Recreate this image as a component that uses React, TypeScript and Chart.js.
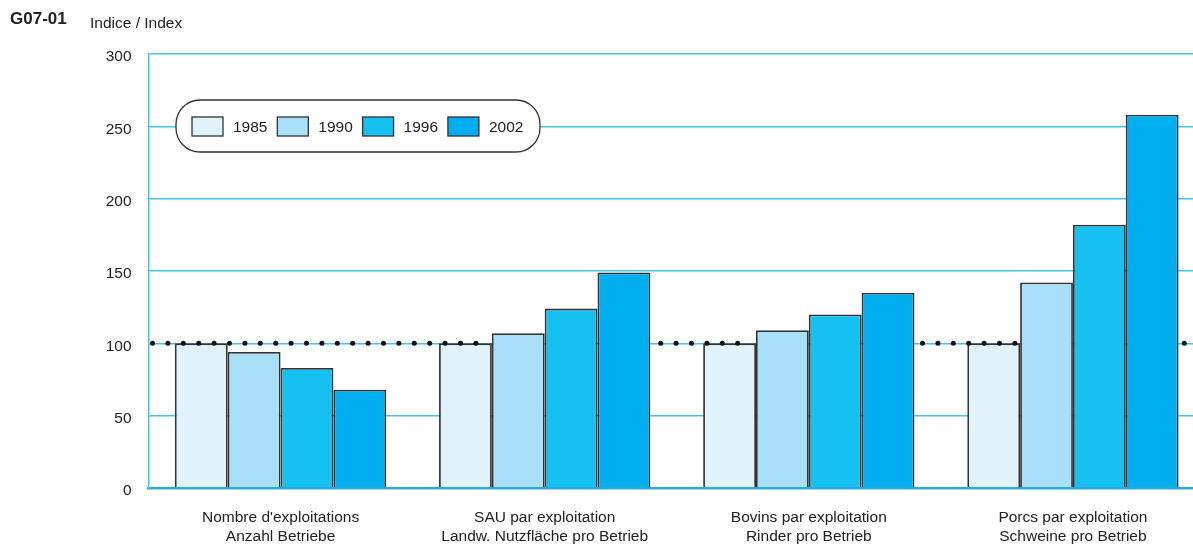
import React, { useEffect, useRef } from "react";
import { Chart, registerables } from "chart.js";

Chart.register(...registerables);

const categories: string[][] = [
  ["Nombre d'exploitations", "Anzahl Betriebe"],
  ["SAU par exploitation", "Landw. Nutzfläche pro Betrieb"],
  ["Bovins par exploitation", "Rinder pro Betrieb"],
  ["Porcs par exploitation", "Schweine pro Betrieb"],
];
const years = ["1985", "1990", "1996", "2002"];
const values1985 = [100, 100, 100, 100];
const values1990 = [94, 107, 109, 142];
const values1996 = [83, 124, 120, 182];
const values2002 = [68, 149, 135, 258];
const colors = ["#e0f3fb", "#aadff9", "#16c0f0", "#00aeef"];
const yTicks = [0, 50, 100, 150, 200, 250, 300];
const referenceValue = 100;
const title = "G07-01";
const yTitle = "Indice / Index";

const FONT = "'Liberation Sans', Arial, Helvetica, sans-serif";
const BLUE = "#45c3f0";

const decorPlugin = {
  id: "decor",
  afterDatasetsDraw(chart: any) {
    const { ctx, chartArea, scales } = chart;
    const y = scales.y.getPixelForValue(referenceValue);
    // collect bars that rise above the reference line
    const covers: { l: number; r: number }[] = [];
    chart.data.datasets.forEach((_: any, i: number) => {
      chart.getDatasetMeta(i).data.forEach((bar: any) => {
        if (bar.y < y - 3) covers.push({ l: bar.x - bar.width / 2 - 3, r: bar.x + bar.width / 2 + 3 });
      });
    });
    ctx.save();
    ctx.fillStyle = "#111";
    for (let x = chartArea.left + 4; x <= 1190; x += 15.4) {
      if (covers.some((c) => x >= c.l && x <= c.r)) continue;
      ctx.beginPath();
      ctx.arc(x, y, 2.5, 0, Math.PI * 2);
      ctx.fill();
    }
    ctx.restore();
  },
  afterDraw(chart: any) {
    const { ctx } = chart;
    ctx.save();
    // titles
    ctx.fillStyle = "#222";
    ctx.textBaseline = "alphabetic";
    ctx.textAlign = "left";
    ctx.font = `bold 17px ${FONT}`;
    ctx.fillText(title, 10, 24);
    ctx.font = `15.5px ${FONT}`;
    ctx.fillText(yTitle, 90, 28);

    // legend box
    const x0 = 176, y0 = 100, w = 364, h = 52, r = 24;
    ctx.beginPath();
    ctx.roundRect(x0, y0, w, h, r);
    ctx.fillStyle = "#fff";
    ctx.fill();
    ctx.lineWidth = 1.3;
    ctx.strokeStyle = "#333";
    ctx.stroke();
    chart.data.datasets.forEach((ds: any, i: number) => {
      const sx = 192 + i * 85.3;
      ctx.fillStyle = ds.backgroundColor;
      ctx.fillRect(sx, 117, 31, 19);
      ctx.lineWidth = 1.3;
      ctx.strokeStyle = "#333";
      ctx.strokeRect(sx, 117, 31, 19);
      ctx.fillStyle = "#222";
      ctx.font = `15.5px ${FONT}`;
      ctx.textBaseline = "middle";
      ctx.fillText(ds.label, sx + 41, 127.5);
    });
    ctx.restore();
  },
};

export default function App() {
  const ref = useRef<HTMLCanvasElement>(null);
  useEffect(() => {
    document.body.style.overflow = "hidden";
    const datasets = [values1985, values1990, values1996, values2002].map((d, i) => ({
      label: years[i],
      data: d,
      backgroundColor: colors[i],
      borderColor: "#333",
      borderWidth: 1.8,
      categoryPercentage: 0.8,
      barPercentage: 1,
    }));
    const chart = new Chart(ref.current!, {
      type: "bar",
      data: { labels: categories, datasets },
      options: {
        animation: false,
        responsive: false,
        devicePixelRatio: 1,
        layout: { padding: { top: 54, left: 0, right: 0, bottom: 0 } },
        plugins: { legend: { display: false }, tooltip: { enabled: false } },
        scales: {
          x: {
            grid: { display: false, drawTicks: false },
            border: { color: "#2aa8dc", width: 2.5 },
            ticks: {
              color: "#222",
              font: { family: FONT, size: 15.5, lineHeight: 1.22 },
              padding: 20,
              maxRotation: 0,
              autoSkip: false,
            },
            afterFit(scale: any) {
              scale.height = 56;
            },
          },
          y: {
            min: 0,
            max: 300,
            afterBuildTicks(scale: any) {
              scale.ticks = yTicks.map((v) => ({ value: v }));
            },
            grid: { color: BLUE, lineWidth: 1.5, drawTicks: false },
            border: { color: BLUE, width: 1.5 },
            ticks: {
              color: "#222",
              font: { family: FONT, size: 15.5 },
              padding: 17,
              labelOffset: 3,
            },
            afterFit(scale: any) {
              scale.width = 148.5;
            },
          },
        },
      },
      plugins: [decorPlugin],
    });
    return () => chart.destroy();
  }, []);
  return (
    <div style={{ position: "fixed", left: 0, top: 0, width: 1193, height: 544, overflow: "hidden", background: "#fff" }}>
      <canvas ref={ref} width={1205} height={544} style={{ display: "block" }} />
    </div>
  );
}
